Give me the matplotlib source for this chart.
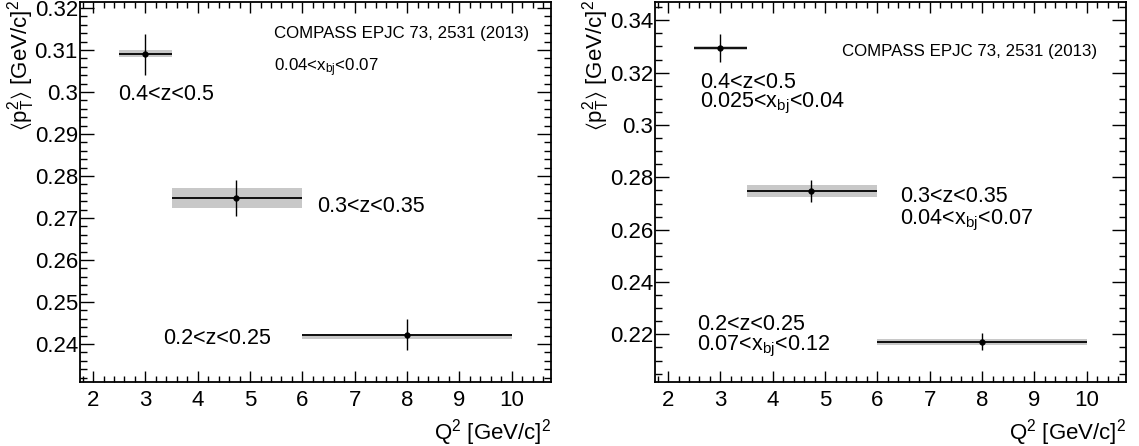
import matplotlib
matplotlib.use("Agg")
import matplotlib.pyplot as plt
from matplotlib.ticker import MultipleLocator
import numpy as np

plt.rcParams['font.family'] = ['Liberation Sans', 'DejaVu Sans']
plt.rcParams['mathtext.fontset'] = 'custom'
plt.rcParams['mathtext.rm'] = 'Liberation Sans'
plt.rcParams['mathtext.it'] = 'Liberation Sans'
plt.rcParams['mathtext.bf'] = 'Liberation Sans:bold'
plt.rcParams['mathtext.fallback'] = 'stixsans'

# ---------------- data ----------------
q2 = [3.0, 4.74, 8.0]
q2_lo = [2.5, 3.5, 6.0]
q2_hi = [3.5, 6.0, 10.0]

# left panel: 0.04 < x_bj < 0.07
left_pt2 = [0.3090, 0.2747, 0.2422]
left_stat = [0.0049, 0.0043, 0.0037]
left_sys_lo = [0.0006, 0.0024, 0.0010]
left_sys_hi = [0.0010, 0.0024, 0.0003]
left_labels = ["0.4<z<0.5", "0.3<z<0.35", "0.2<z<0.25"]

# right panel: different x_bj bins
right_pt2 = [0.3295, 0.2747, 0.2172]
right_stat = [0.0054, 0.0043, 0.0033]
right_sys_lo = [0.0010, 0.0024, 0.0013]
right_sys_hi = [0.0007, 0.0024, 0.0010]
right_zlabels = ["0.4<z<0.5", "0.3<z<0.35", "0.2<z<0.25"]
right_xlabels = ["0.025<x$_{\\mathrm{bj}}$<0.04", "0.04<x$_{\\mathrm{bj}}$<0.07", "0.07<x$_{\\mathrm{bj}}$<0.12"]

ref_text = "COMPASS EPJC 73, 2531 (2013)"
left_bin_text = "0.04<x$_{\\mathrm{bj}}$<0.07"
xlabel = "Q$^{2}$ [GeV/c]$^{2}$"
ylabel = "$\\langle\\mathrm{p}_{\\mathrm{T}}^{2}\\rangle$ [GeV/c]$^{2}$"

W, H = 1139, 446
fig = plt.figure(figsize=(W / 100, H / 100), dpi=100)

def make_axes(left_px, right_px, top_px=2, bottom_px=382):
    return fig.add_axes([left_px / W, (H - bottom_px) / H,
                         (right_px - left_px) / W, (bottom_px - top_px) / H])

axL = make_axes(80, 551)
axR = make_axes(655, 1126)

def draw_panel(ax, y, stat, slo, shi, ymaj, ymin_step):
    x = np.array(q2); xl = np.array(q2_lo); xh = np.array(q2_hi)
    y = np.array(y); stat = np.array(stat); slo = np.array(slo); shi = np.array(shi)
    ax.bar(xl, slo + shi, width=xh - xl, bottom=y - slo, align='edge',
           color='#c8c8c8', edgecolor='none', zorder=1)
    ax.hlines(y, xl, xh, color='black', lw=1.3, zorder=2)
    ax.vlines(x, y - stat, y + stat, color='black', lw=1.0, zorder=2)
    ax.plot(x, y, 'o', color='black', ms=3.5, zorder=3)
    # ROOT-like automatic range: 10% margins
    dx = xh.max() - xl.min()
    ax.set_xlim(xl.min() - 0.1 * dx, xh.max() + 0.1 * dx)
    ylo = (y - stat).min(); yhi = (y + stat).max(); dy = yhi - ylo
    ax.set_ylim(ylo - 0.1 * dy, yhi + 0.1 * dy)
    ax.xaxis.set_major_locator(MultipleLocator(1))
    ax.xaxis.set_minor_locator(MultipleLocator(0.2))
    ax.yaxis.set_major_locator(MultipleLocator(ymaj))
    ax.yaxis.set_minor_locator(MultipleLocator(ymin_step))
    ax.tick_params(axis='both', which='both', direction='in', top=True, right=True,
                   width=1.0, colors='black')
    ax.tick_params(axis='x', which='major', length=8.2, pad=6, labelsize=16)
    ax.tick_params(axis='x', which='minor', length=4.1)
    ax.tick_params(axis='y', which='major', length=10.1, pad=1.5, labelsize=16)
    ax.tick_params(axis='y', which='minor', length=5.0)
    for s in ax.spines.values():
        s.set_linewidth(1.3)
    ax.yaxis.set_major_formatter(matplotlib.ticker.FuncFormatter(
        lambda v, p: ('%g' % round(v, 4))))
    ax.set_xlabel(xlabel, loc='right', fontsize=16, labelpad=4)
    ax.set_ylabel(ylabel, loc='top', fontsize=16)
    ax.yaxis.set_label_coords(-0.092, 1.006)

draw_panel(axL, left_pt2, left_stat, left_sys_lo, left_sys_hi, 0.01, 0.002)
draw_panel(axR, right_pt2, right_stat, right_sys_lo, right_sys_hi, 0.02, 0.005)

fs = 15.5
# left panel annotations
axL.text(2.476, 0.29799, left_labels[0], fontsize=fs, va='baseline')
axL.text(6.273, 0.27132, left_labels[1], fontsize=fs, va='baseline')
axL.text(3.336, 0.24001, left_labels[2], fontsize=fs, va='baseline')
axL.text(0.953, 0.905, ref_text, transform=axL.transAxes, fontsize=12.2,
         ha='right', va='baseline')
axL.text(0.412, 0.818, left_bin_text, transform=axL.transAxes, fontsize=12.2,
         ha='left', va='baseline')

# right panel annotations
axR.text(2.610, 0.31395, right_zlabels[0], fontsize=fs, va='baseline')
axR.text(2.610, 0.30669, right_xlabels[0], fontsize=fs, va='baseline')
axR.text(6.432, 0.27077, right_zlabels[1], fontsize=fs, va='baseline')
axR.text(6.432, 0.26217, right_xlabels[1], fontsize=fs, va='baseline')
axR.text(2.553, 0.22186, right_zlabels[2], fontsize=fs, va='baseline')
axR.text(2.553, 0.21384, right_xlabels[2], fontsize=fs, va='baseline')
axR.text(0.938, 0.858, ref_text, transform=axR.transAxes, fontsize=12.2,
         ha='right', va='baseline')

fig.savefig("out.png", dpi=100)
